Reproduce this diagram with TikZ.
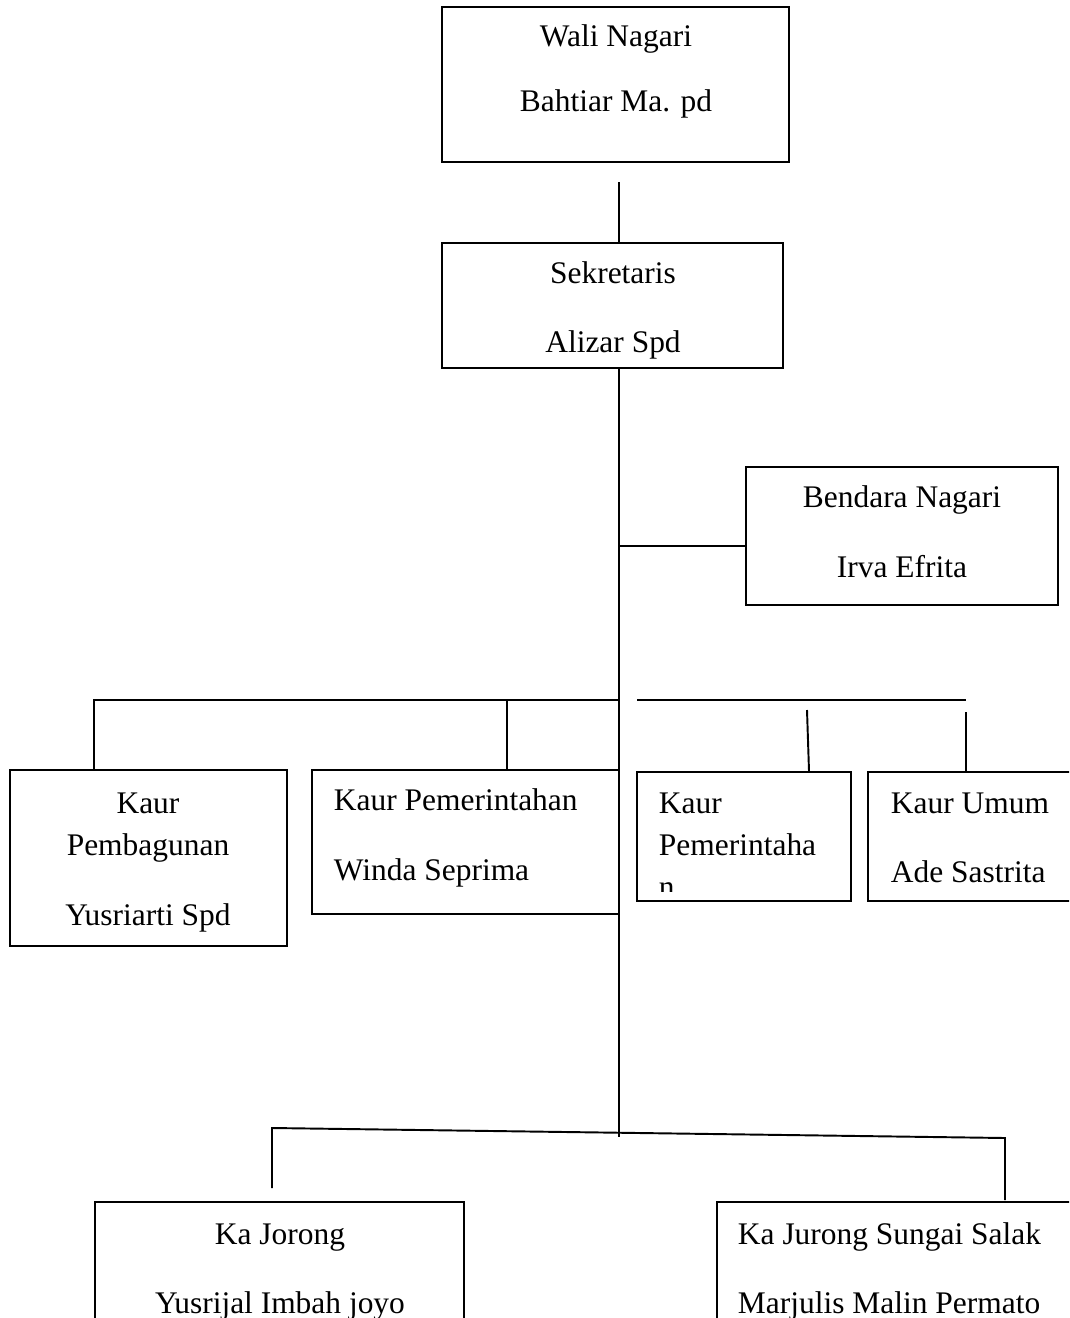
\documentclass[tikz,border=0pt]{standalone}
\usepackage{fontspec}
\setmainfont{Liberation Serif}
\usetikzlibrary{fit}
\tikzset{
    box/.style={draw, line width=1.1pt, inner sep=0pt},
    lbl/.style={font=\fontsize{17.9}{21}\selectfont, inner sep=0pt, anchor=base},
    lblw/.style={lbl, anchor=base west},
}
\begin{document}
\begin{tikzpicture}[x=0.02cm, y=-0.02cm, line width=1.1pt]
    \useasboundingbox (0,0) rectangle (1069,1318);
    \clip (0,0) rectangle (1069,1318);
    % Boxes
    \node[box, fit={(442,7) (789,162)}] (wali) {};
    \node[box, fit={(442,243) (783,368)}] (sekr) {};
    \node[box, fit={(746,467) (1058,605)}] (bend) {};
    \node[box, fit={(10,770) (287,946)}] (pemb) {};
    \node[box, fit={(312,770) (619,914)}] (pemt) {};
    \node[box, fit={(637,772) (851,901)}] (pemr) {};
    \node[box, fit={(868,772) (1076,901)}] (umum) {};
    \node[box, fit={(95,1202) (464,1330)}] (jorA) {};
    \node[box, fit={(717,1202) (1076,1330)}] (jorB) {};
    % Texts
    \node[lbl] (waliA) at (616,47) {Wali Nagari};
    \node[lbl] (waliB) at (616,112) {Bahtiar Ma. pd};
    \node[lbl] (sekrA) at (613,283) {Sekretaris};
    \node[lbl] (sekrB) at (613,352) {Alizar Spd};
    \node[lbl] (bendA) at (902,507) {Bendara Nagari};
    \node[lbl] (bendB) at (902,577) {Irva Efrita};
    \node[lbl] (pembA) at (148,813) {Kaur};
    \node[lbl] (pembB) at (148,855) {Pembagunan};
    \node[lbl] (pembC) at (148,925) {Yusriarti Spd};
    \node[lblw] (pemtA) at (333,810) {Kaur Pemerintahan};
    \node[lblw] (pemtB) at (333,880) {Winda Seprima};
    \node[lblw] (pemrA) at (658,813) {Kaur};
    \node[lblw] (pemrB) at (658,855) {Pemerintaha};
    \begin{scope}
        \clip (637,772) rectangle (851,891);
        \node[lblw] (pemrC) at (658,897) {n};
    \end{scope}
    \node[lblw] (umumA) at (890,813) {Kaur Umum};
    \node[lblw] (umumB) at (890,882) {Ade Sastrita};
    \node[lbl] (jorAA) at (280,1244) {Ka Jorong};
    \node[lbl] (jorAB) at (280,1313) {Yusrijal Imbah joyo};
    \node[lblw] (jorBA) at (737,1244) {Ka Jurong Sungai Salak};
    \node[lblw] (jorBB) at (737,1313) {Marjulis Malin Permato};
    % Connectors
    \coordinate (top) at (619,182);
    \coordinate (trunk) at (619,1137);
    \coordinate (jb) at (619,546);
    \draw (top) -- (top |- sekr.north);
    \draw (top |- sekr.south) -- (trunk);
    \draw (jb) -- (jb -| bend.west);
    % Left bar
    \coordinate (barL) at (94,700);
    \coordinate (barM) at (507,700);
    \coordinate (barR) at (619,700);
    \draw (barL |- pemb.north) -- (barL) -- (barR);
    \draw (barM) -- (barM |- pemt.north);
    % Right bar
    \coordinate (rbL) at (637,700);
    \coordinate (rbR) at (966,700);
    \coordinate (rbA) at (807,710);
    \coordinate (rbB) at (966,712);
    \draw (rbL) -- (rbR);
    \draw (rbA) -- (809,772 |- pemr.north);
    \draw (rbB) -- (rbB |- umum.north);
    % Bottom bar
    \coordinate (jL) at (272,1128);
    \coordinate (jR) at (1005,1138);
    \draw (272,1188) -- (jL) -- (jR) -- (1005,1200);
\end{tikzpicture}
\end{document}
